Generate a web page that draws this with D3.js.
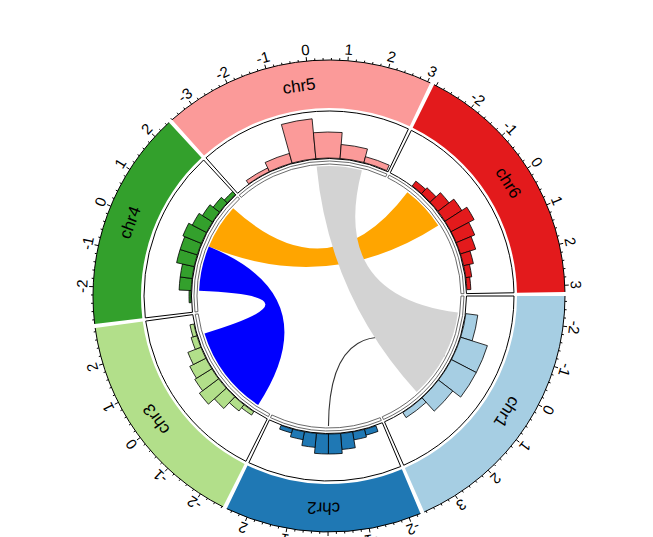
<!DOCTYPE html>
<html><head><meta charset="utf-8">
<script src="https://cdn.jsdelivr.net/npm/d3@7"></script>
<style>html,body{margin:0;padding:0;background:#fff}svg{display:block}</style>
</head><body>
<svg id="chart" width="653" height="537"></svg>
<script>
// ---------------- data ----------------
const sectors = ["chr1","chr2","chr3","chr4","chr5","chr6"];
const sectorColors = ["#A6CEE3","#1F78B4","#B2DF8A","#33A02C","#FB9A99","#E31A1C"];
const xMin = [-2.73, -2.29, -2.63, -2.90, -3.60, -3.06];
const xMax = [ 3.85,  2.53,  2.89,  2.48,  3.07,  3.16];

const chr1Ticks = [-2,-1,0,1,2,3];
const chr2Ticks = [-2,-1,0,1,2];
const chr3Ticks = [-2,-1,0,1,2];
const chr4Ticks = [-2,-1,0,1,2];
const chr5Ticks = [-3,-2,-1,0,1,2,3];
const chr6Ticks = [-2,-1,0,1,2,3];

// histogram bins (breaks) and counts per sector
const chr1Breaks = [-2,-1,0,1,2,3];
const chr1Counts = [6,14,14,9,3];
const chr2Breaks = [-2,-1.5,-1,-0.5,0,0.5,1,1.5,2];
const chr2Counts = [3,4,8,10,10,7,4,2];
const chr3Breaks = [-2,-1.5,-1,-0.5,0,0.5,1,1.5,2,2.5];
const chr3Counts = [2,4,8,12,10,9,7,3,2];
const chr4Breaks = [-2.5,-2,-1.5,-1,-0.5,0,0.5,1,1.5,2,2.5];
const chr4Counts = [1,6,6,9,9,10,8,6,4,2];
const chr5Breaks = [-3,-2,-1,0,1,2,3];
const chr5Counts = [2,5,20,13,7,3];
const chr6Breaks = [-2,-1.5,-1,-0.5,0,0.5,1,1.5,2,2.5,3];
const chr6Counts = [3,4,7,10,13,10,8,5,3,2];
const histYMax = 23;

// links
const linkFromSector = ["chr4","chr4","chr5"];
const linkFromStart  = [0, -2, 0];
const linkFromEnd    = [2,  0, 2];
const linkToSector   = ["chr6","chr3","chr1"];
const linkToStart    = [-2, -2, -2];
const linkToEnd      = [ 0,  2,  2];
const linkColors     = ["#FFA500","#0000FF","#D3D3D3"];
// single-point (line) link
const lineFromSector = "chr1", lineFromX = 0;
const lineToSector   = "chr2", lineToX = 0;

// ---------------- layout ----------------
const cx = 329, cy = 296;
const rAxis = 236, rT1in = 188;
const rT2out = 185, rT2in = 137.5;
const rT3out = 135, rT3in = 132;
const rLink = 130;
const rHistBase = 138, rHistTop = 184;
const gapDeg = 1;

const svg = d3.select("#chart");
const g = svg.append("g").attr("transform", `translate(${cx},${cy})`);

const ranges = xMax.map((m,i)=>m - xMin[i]);
const degPerUnit = (360 - gapDeg*sectors.length) / d3.sum(ranges);
const scales = [];
let st = 0;
sectors.forEach((s,i)=>{
  const en = st + ranges[i]*degPerUnit;
  scales.push(d3.scaleLinear().domain([xMin[i], xMax[i]]).range([st, en]));
  st = en + gapDeg;
});
const idx = s => sectors.indexOf(s);
const theta = (i,x) => scales[i](x);                 // degrees, clockwise from east
const toRad = d => d*Math.PI/180;
const d3a = d => toRad(d + 90);                      // d3.arc convention
const pol = (r, d) => [r*Math.cos(toRad(d)), r*Math.sin(toRad(d))];

const ticksList = [chr1Ticks, chr2Ticks, chr3Ticks, chr4Ticks, chr5Ticks, chr6Ticks];
const breaksList = [chr1Breaks, chr2Breaks, chr3Breaks, chr4Breaks, chr5Breaks, chr6Breaks];
const countsList = [chr1Counts, chr2Counts, chr3Counts, chr4Counts, chr5Counts, chr6Counts];

const arc = d3.arc();
const yScale = d3.scaleLinear().domain([0, histYMax]).range([rHistBase, rHistTop]);

// ---- track 1: colored sectors with names ----
sectors.forEach((s,i)=>{
  g.append("path")
    .attr("d", arc({innerRadius:rT1in, outerRadius:rAxis,
                    startAngle:d3a(scales[i].range()[0]), endAngle:d3a(scales[i].range()[1])}))
    .attr("fill", sectorColors[i]).attr("stroke","none");
  const mid = (scales[i].range()[0] + scales[i].range()[1])/2;
  const [tx, ty] = pol((rT1in + rAxis)/2, mid);
  g.append("text").attr("x", tx).attr("y", ty)
    .attr("transform", `rotate(${mid+90},${tx},${ty})`)
    .attr("text-anchor","middle").attr("dominant-baseline","central")
    .attr("font-family","Liberation Sans, Arial, sans-serif").attr("font-size",17)
    .attr("fill","#000").text(s);
});

// ---- axes on top of track 1 ----
sectors.forEach((s,i)=>{
  const [a0, a1] = scales[i].range();
  const p = d3.path();
  p.arc(0,0,rAxis,toRad(a0),toRad(a1));
  g.append("path").attr("d", p.toString()).attr("fill","none").attr("stroke","#000").attr("stroke-width",1);
  // minor ticks
  const minor = d3.range(Math.ceil(xMin[i]*5), Math.floor(xMax[i]*5)+1).map(v=>v/5);
  minor.forEach(v=>{
    const d = theta(i,v);
    const isMajor = Math.abs(v - Math.round(v)) < 1e-9;
    const [x1,y1] = pol(rAxis, d), [x2,y2] = pol(rAxis + (isMajor?4:2), d);
    g.append("line").attr("x1",x1).attr("y1",y1).attr("x2",x2).attr("y2",y2)
      .attr("stroke","#000").attr("stroke-width",1);
  });
  ticksList[i].forEach(v=>{
    const d = theta(i,v);
    const [tx,ty] = pol(rAxis + 6, d);
    g.append("text").attr("x",tx).attr("y",ty)
      .attr("transform",`rotate(${d+90},${tx},${ty})`)
      .attr("text-anchor","middle").attr("dominant-baseline","alphabetic")
      .attr("font-family","Liberation Sans, Arial, sans-serif").attr("font-size",15)
      .attr("fill","#000").text(v);
  });
});

// ---- track 2: histogram cells ----
sectors.forEach((s,i)=>{
  const [a0, a1] = scales[i].range();
  g.append("path")
    .attr("d", arc({innerRadius:rT2in, outerRadius:rT2out, startAngle:d3a(a0), endAngle:d3a(a1)}))
    .attr("fill","#fff").attr("stroke","#000").attr("stroke-width",1);
  const br = breaksList[i], ct = countsList[i];
  ct.forEach((c,k)=>{
    const b0 = Math.max(br[k], xMin[i]), b1 = Math.min(br[k+1], xMax[i]);
    if (b1 <= b0) return;
    g.append("path")
      .attr("d", arc({innerRadius:rHistBase, outerRadius:yScale(c),
                      startAngle:d3a(theta(i,b0)), endAngle:d3a(theta(i,b1))}))
      .attr("fill", sectorColors[i]).attr("stroke","#000").attr("stroke-width",0.8);
  });
});

// ---- track 3: thin empty cells ----
sectors.forEach((s,i)=>{
  const [a0, a1] = scales[i].range();
  g.append("path")
    .attr("d", arc({innerRadius:rT3in, outerRadius:rT3out, startAngle:d3a(a0), endAngle:d3a(a1)}))
    .attr("fill","#fff").attr("stroke","#444").attr("stroke-width",0.8);
});

// ---- links ----
{
  const i1 = idx(lineFromSector), i2 = idx(lineToSector);
  const [x1,y1] = pol(rLink, theta(i1,lineFromX));
  const [x2,y2] = pol(rLink, theta(i2,lineToX));
  const p = d3.path(); p.moveTo(x1,y1); p.quadraticCurveTo(0,0,x2,y2);
  g.append("path").attr("d",p.toString()).attr("fill","none").attr("stroke","#333").attr("stroke-width",1.1);
}
const ribbon = d3.ribbon().radius(rLink);
linkColors.forEach((col,k)=>{
  const si = idx(linkFromSector[k]), ti = idx(linkToSector[k]);
  let sa0 = d3a(theta(si, linkFromStart[k])), sa1 = d3a(theta(si, linkFromEnd[k]));
  let ta0 = d3a(theta(ti, linkToStart[k])),  ta1 = d3a(theta(ti, linkToEnd[k]));
  g.append("path")
    .attr("d", ribbon({source:{startAngle:sa0, endAngle:sa1}, target:{startAngle:ta0, endAngle:ta1}}))
    .attr("fill", col).attr("stroke","none");
});
</script>
</body></html>
